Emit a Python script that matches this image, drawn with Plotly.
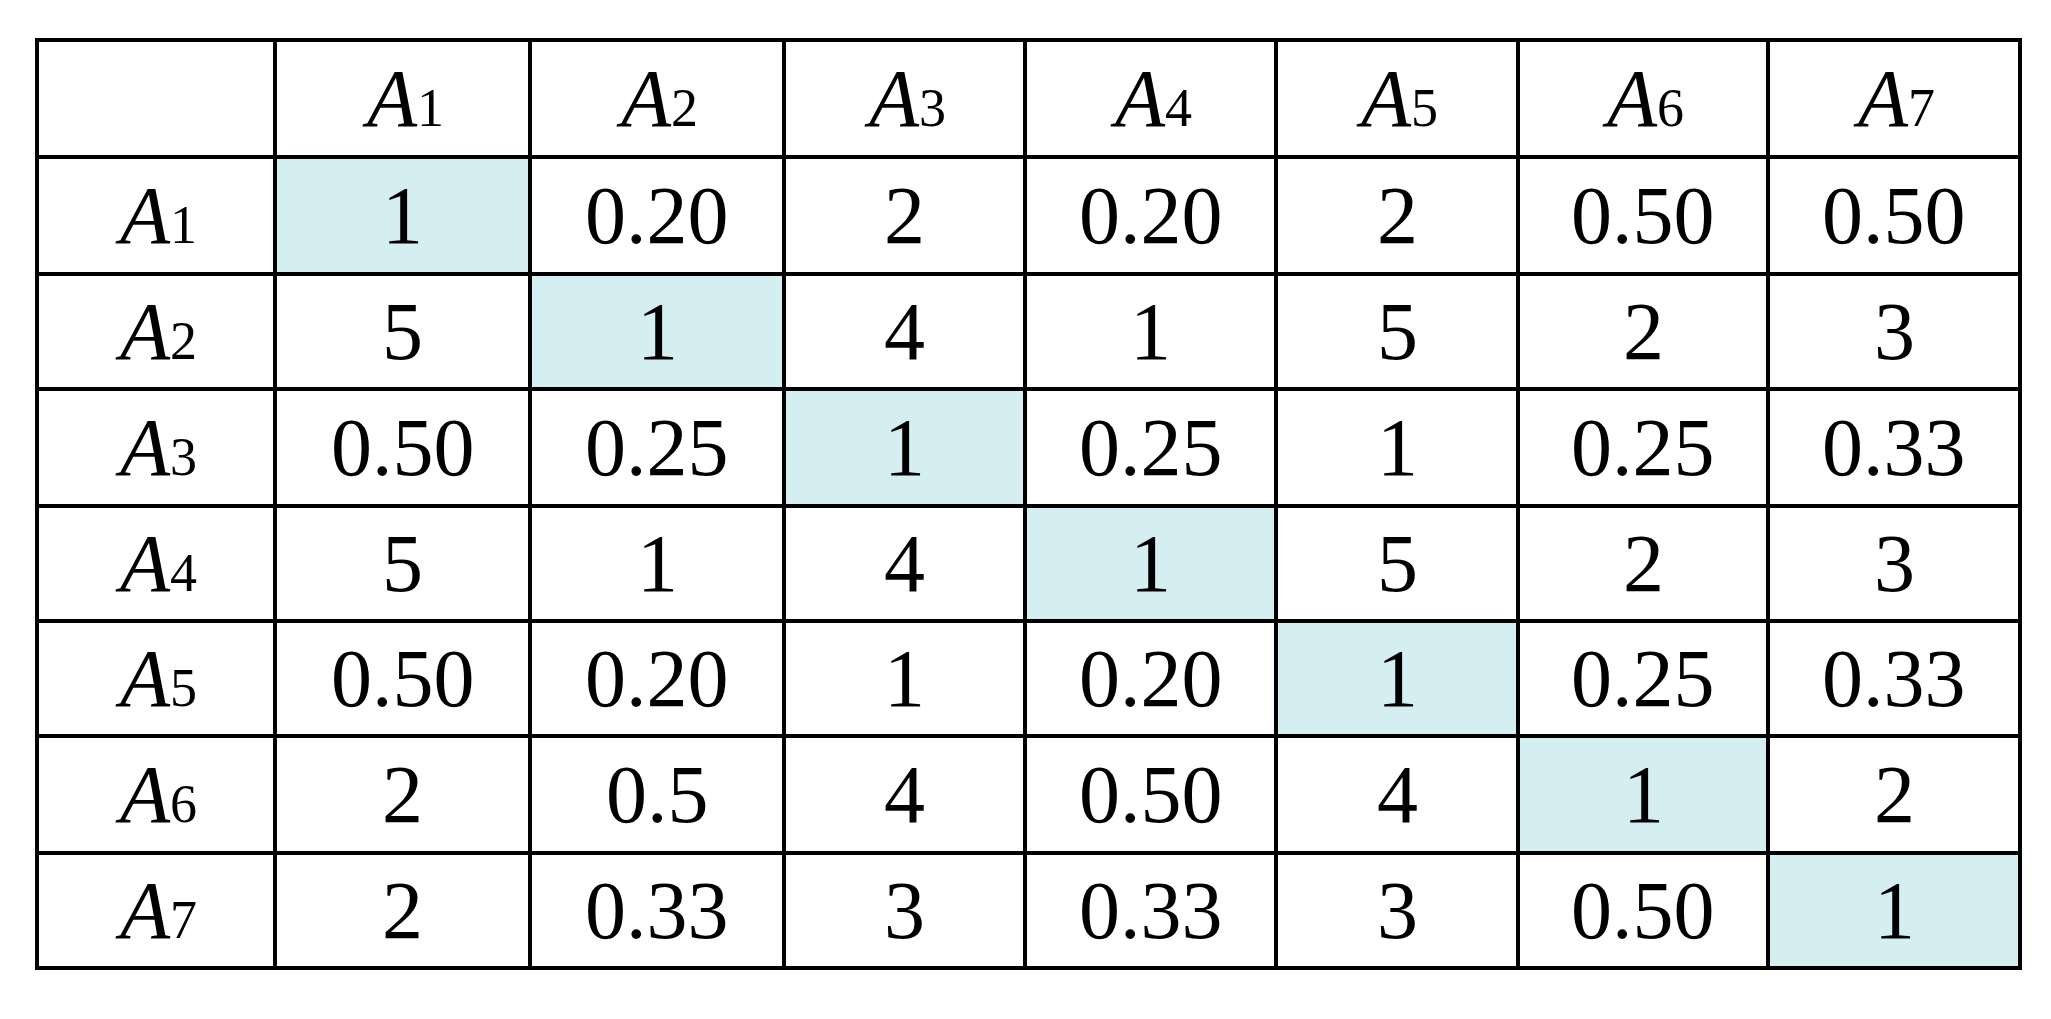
import plotly.graph_objects as go

labels = ["A1", "A2", "A3", "A4", "A5", "A6", "A7"]
row_A1 = ["1", "0.20", "2", "0.20", "2", "0.50", "0.50"]
row_A2 = ["5", "1", "4", "1", "5", "2", "3"]
row_A3 = ["0.50", "0.25", "1", "0.25", "1", "0.25", "0.33"]
row_A4 = ["5", "1", "4", "1", "5", "2", "3"]
row_A5 = ["0.50", "0.20", "1", "0.20", "1", "0.25", "0.33"]
row_A6 = ["2", "0.5", "4", "0.50", "4", "1", "2"]
row_A7 = ["2", "0.33", "3", "0.33", "3", "0.50", "1"]
rows = [row_A1, row_A2, row_A3, row_A4, row_A5, row_A6, row_A7]

# layout geometry (pixel coordinates)
xb = [29, 267, 522, 776, 1017, 1268, 1510, 1760, 2012]
yb = [32, 149, 266, 381, 498, 613, 728, 845, 960]
W, H = 2051, 1019
FONT = "Liberation Serif"
FS = 82
HL = "#D5EEF2"

def lab(s):
    return f"<i>{s[0]}</i><span style='font-size:{int(FS*0.66)}px'>{s[1:]}</span>"

shapes, anns = [], []
for i in range(7):
    r = i + 1
    c = i + 1
    shapes.append(dict(type="rect", x0=xb[c], x1=xb[c+1], y0=yb[r], y1=yb[r+1],
                       fillcolor=HL, line=dict(width=0), layer="below"))
for x in xb:
    shapes.append(dict(type="line", x0=x, x1=x, y0=yb[0]-2, y1=yb[-1]+2, line=dict(color="black", width=4)))
for y in yb:
    shapes.append(dict(type="line", x0=xb[0]-2, x1=xb[-1]+2, y0=y, y1=y, line=dict(color="black", width=4)))

def cx(c): return (xb[c] + xb[c+1]) / 2
def cy(r): return (yb[r] + yb[r+1]) / 2

for j, l in enumerate(labels):
    anns.append(dict(x=cx(j+1), y=cy(0), text=lab(l)))
    anns.append(dict(x=cx(0), y=cy(j+1), text=lab(l)))
for i, row in enumerate(rows):
    for j, v in enumerate(row):
        anns.append(dict(x=cx(j+1), y=cy(i+1), text=v))
for a in anns:
    a.update(xref="x", yref="y", showarrow=False, xanchor="center", yanchor="middle",
             font=dict(family=FONT, size=FS, color="black"))

fig = go.Figure()
fig.update_layout(width=W, height=H, margin=dict(l=0, r=0, t=0, b=0),
                  paper_bgcolor="white", plot_bgcolor="white",
                  xaxis=dict(range=[0, W], visible=False, fixedrange=True),
                  yaxis=dict(range=[H, 0], visible=False, fixedrange=True),
                  shapes=shapes, annotations=anns, showlegend=False)
fig.write_html("out.html")
